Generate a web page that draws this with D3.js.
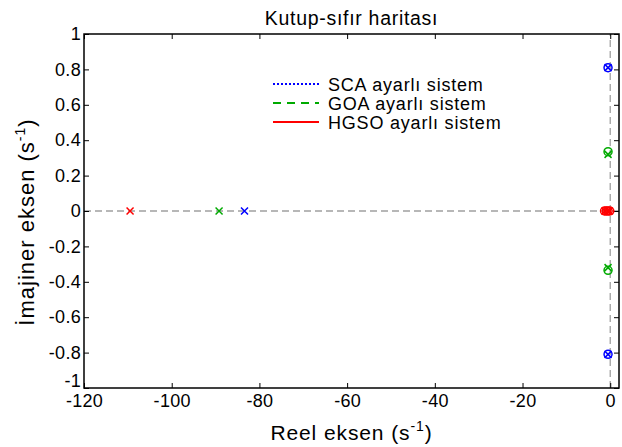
<!DOCTYPE html>
<html>
<head>
<meta charset="utf-8">
<script src="https://cdn.jsdelivr.net/npm/d3@7"></script>
<style>
  body { margin: 0; background: #fff; }
  text { font-family: "Liberation Sans", Arial, sans-serif; fill: #000; }
</style>
</head>
<body>
<div id="chart"></div>
<script>
// Systems and their colours / legend dash patterns
const systems = ["SCA ayarlı sistem", "GOA ayarlı sistem", "HGSO ayarlı sistem"];
const colors = ["#0000ff", "#00aa00", "#ff0000"];
const dashes = ["2,2", "8,6", null];

const scaPoles = [[-83.4, 0], [-0.5, 0.81], [-0.5, -0.81]];
const goaPoles = [[-89.2, 0], [-0.5, 0.32], [-0.5, -0.32]];
const hgsoPoles = [[-109.5, 0], [-1.2, 0], [-0.6, 0], [-0.2, 0]];

// Zeros (o markers)
const scaZeros = [[-0.5, 0.81], [-0.5, -0.81]];
const goaZeros = [[-0.5, 0.335], [-0.5, -0.335]];
const hgsoZeros = [[-1.3, 0], [-0.9, 0], [-0.5, 0], [-0.1, 0]];

const xTicks = [-120, -100, -80, -60, -40, -20, 0];
const yTicks = [-1, -0.8, -0.6, -0.4, -0.2, 0, 0.2, 0.4, 0.6, 0.8, 1];

const width = 622, height = 447;
const margin = { top: 34, right: 3, bottom: 59, left: 84 };

const svg = d3.select("#chart").append("svg")
    .attr("width", width)
    .attr("height", height);

const x = d3.scaleLinear().domain([-120, 2]).range([margin.left, width - margin.right]);
const y = d3.scaleLinear().domain([-1, 1]).range([height - margin.bottom, margin.top]);

// dashed grey zero lines
svg.append("line")
    .attr("x1", x(-120)).attr("x2", x(2))
    .attr("y1", y(0)).attr("y2", y(0))
    .style("stroke", "#a0a0a0").style("stroke-dasharray", "7,4").style("stroke-width", 1.3);
svg.append("line")
    .attr("x1", x(0)).attr("x2", x(0))
    .attr("y1", y(-1)).attr("y2", y(1))
    .style("stroke", "#a0a0a0").style("stroke-dasharray", "7,4").style("stroke-width", 1.3);

// axes, ticks inward
const axisStyle = g => {
    g.select(".domain").remove();
    g.selectAll("line").style("stroke", "#000").style("stroke-width", 1);
    g.selectAll("text")
        .style("font-size", "18px")
        .style("letter-spacing", "0.3px")
        .style("font-family", "Liberation Sans, Arial");
};
const fmt = d => String(d);
svg.append("g")
    .attr("transform", `translate(0,${y(-1)})`)
    .call(d3.axisBottom(x).tickValues(xTicks).tickSize(-5).tickPadding(6).tickFormat(fmt))
    .call(axisStyle);
svg.append("g")
    .attr("transform", `translate(0,${y(1)})`)
    .call(d3.axisTop(x).tickValues(xTicks).tickSize(-5).tickFormat(""))
    .call(axisStyle);
const yAxis = svg.append("g")
    .attr("transform", `translate(${x(-120)},0)`)
    .call(d3.axisLeft(y).tickValues(yTicks).tickSize(-5).tickPadding(3).tickFormat(fmt))
    .call(axisStyle);
// lift the bottom label clear of the x tick labels
yAxis.selectAll(".tick text").filter(d => d === -1).attr("dy", "-0.1em");
svg.append("g")
    .attr("transform", `translate(${x(2)},0)`)
    .call(d3.axisRight(y).tickValues(yTicks).tickSize(-5).tickFormat(""))
    .call(axisStyle);

// box
svg.append("rect")
    .attr("x", x(-120)).attr("y", y(1))
    .attr("width", x(2) - x(-120)).attr("height", y(-1) - y(1))
    .style("fill", "none").style("stroke", "#000").style("stroke-width", 1.5);

// markers
const poles = [scaPoles, goaPoles, hgsoPoles];
const zeros = [scaZeros, goaZeros, hgsoZeros];
const marks = svg.append("g");
poles.forEach((ps, i) => {
    marks.append("g").selectAll("path")
        .data(ps).join("path")
        .attr("d", d => {
            const cx = x(d[0]), cy = y(d[1]), s = 3.5;
            return `M${cx - s},${cy - s}L${cx + s},${cy + s}M${cx - s},${cy + s}L${cx + s},${cy - s}`;
        })
        .style("stroke", colors[i]).style("stroke-width", 1.5).style("fill", "none");
});
zeros.forEach((zs, i) => {
    marks.append("g").selectAll("circle")
        .data(zs).join("circle")
        .attr("cx", d => x(d[0])).attr("cy", d => y(d[1]))
        .attr("r", 4)
        .style("stroke", colors[i]).style("stroke-width", 1.5).style("fill", "none");
});

// legend
const legend = svg.append("g").attr("transform", "translate(273,84)");
const items = legend.selectAll("g").data(systems).join("g")
    .attr("transform", (d, i) => `translate(0,${i * 19})`);
items.append("line")
    .attr("x1", 0).attr("x2", 46).attr("y1", 0).attr("y2", 0)
    .style("stroke", (d, i) => colors[i])
    .style("stroke-width", 2)
    .style("stroke-dasharray", (d, i) => dashes[i]);
items.append("text")
    .attr("x", 55).attr("y", 6.5)
    .style("font-size", "18px")
    .style("letter-spacing", "0.8px")
    .text(d => d);

// title
svg.append("text")
    .attr("x", (x(-120) + x(2)) / 2).attr("y", 25)
    .attr("text-anchor", "middle")
    .style("font-size", "19.5px")
    .style("letter-spacing", "0.7px")
    .text("Kutup-sıfır haritası");

// x label
const xl = svg.append("text")
    .attr("x", (x(-120) + x(2)) / 2).attr("y", 440)
    .attr("text-anchor", "middle")
    .style("font-size", "21px")
    .style("letter-spacing", "0.9px");
xl.append("tspan").text("Reel eksen (s");
xl.append("tspan").attr("dy", -9).style("font-size", "14px").text("-1");
xl.append("tspan").attr("dy", 9).text(")");

// y label
const yl = svg.append("text")
    .attr("transform", `translate(34,222) rotate(-90)`)
    .attr("text-anchor", "middle")
    .style("font-size", "22px")
    .style("letter-spacing", "1px");
yl.append("tspan").text("İmajiner eksen (s");
yl.append("tspan").attr("dy", -9).style("font-size", "14px").text("-1");
yl.append("tspan").attr("dy", 9).text(")");
</script>
</body>
</html>
